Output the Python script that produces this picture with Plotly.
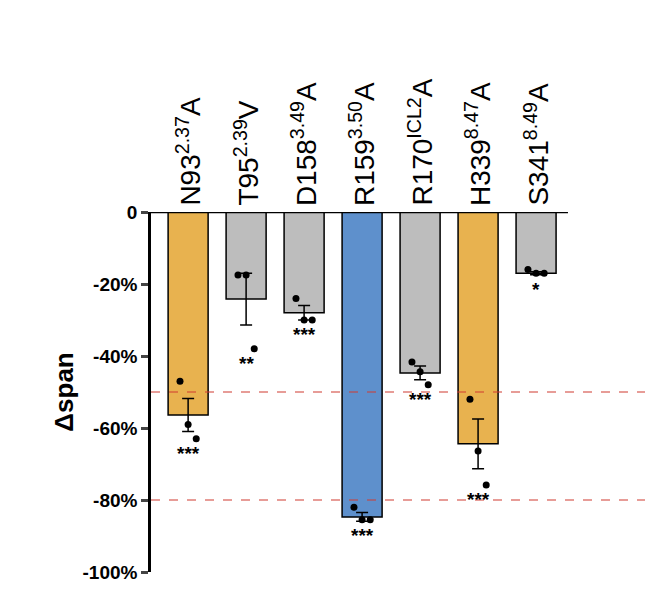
import plotly.graph_objects as go

labels = ["N93<sup>2.37</sup>A", "T95<sup>2.39</sup>V", "D158<sup>3.49</sup>A", "R159<sup>3.50</sup>A",
          "R170<sup>ICL2</sup>A", "H339<sup>8.47</sup>A", "S341<sup>8.49</sup>A"]
means = [-56.4, -24.2, -28.0, -84.7, -44.7, -64.4, -17.0]
sems = [4.6, 7.2, 2.0, 1.2, 1.9, 6.9, 0.4]
dots = [[-47, -59, -63], [-17.5, -17.5, -38], [-24, -30, -30], [-82, -85.5, -85.5],
        [-41.7, -44.4, -48], [-52, -66.4, -75.8], [-16, -17, -17]]
stars = ["***", "**", "***", "***", "***", "***", "*"]
colors = ["#E8B24F", "#BDBDBD", "#BDBDBD", "#5E90CC", "#BDBDBD", "#E8B24F", "#BDBDBD"]
ref_lines = [-50, -80]

x = list(range(len(labels)))
fig = go.Figure()
fig.add_bar(x=x, y=means, width=0.69, marker=dict(color=colors, line=dict(color="black", width=1.5)),
            error_y=dict(type="data", array=sems, color="black", thickness=1.5, width=6))
dx, dy = [], []
offs = [-0.14, 0, 0.14]
for i, d in enumerate(dots):
    for j, v in enumerate(d):
        dx.append(i + offs[j]); dy.append(v)
fig.add_scatter(x=dx, y=dy, mode="markers", marker=dict(color="black", size=7))

xl, xr = -0.64, 7.93
for r in ref_lines:
    fig.add_shape(type="line", x0=xl, x1=xr, y0=r, y1=r, line=dict(color="#D03A30", width=1.2, dash="dash"))
fig.add_shape(type="line", x0=xl, x1=6.55, y0=0, y1=0, line=dict(color="black", width=2.5))
ann = []
for i, l in enumerate(labels):
    ann.append(dict(x=i, y=0, text=l, textangle=-90, showarrow=False, yanchor="bottom", yshift=4,
                    font=dict(size=28, color="black", family="Liberation Sans")))
    ann.append(dict(x=i, y=min(min(dots[i]), means[i] - sems[i]), text=stars[i], showarrow=False,
                    yanchor="top", yshift=-2, font=dict(size=19, color="black", family="Liberation Sans", weight="bold")))
ann.append(dict(x=-0.21, xref="paper", y=-50, text="Δspan", textangle=-90, showarrow=False,
                font=dict(size=26, color="black", family="Liberation Sans", weight="bold")))
fig.update_layout(
    width=653, height=606, margin=dict(l=143, r=13, t=204, b=42), plot_bgcolor="white", paper_bgcolor="white",
    showlegend=False, annotations=ann,
    xaxis=dict(range=[xl, xr], showticklabels=False, showgrid=False, zeroline=False, showline=False, ticks=""),
    yaxis=dict(range=[-100, 0], tickvals=[0, -20, -40, -60, -80, -100],
               ticktext=["0", "-20%", "-40%", "-60%", "-80%", "-100%"], ticks="outside", ticklen=7, tickwidth=2.5,
               showline=True, linewidth=2.5, linecolor="black", showgrid=False, zeroline=False,
               tickfont=dict(size=19, color="black", family="Liberation Sans", weight="bold")),
)
fig.write_html("out.html")
